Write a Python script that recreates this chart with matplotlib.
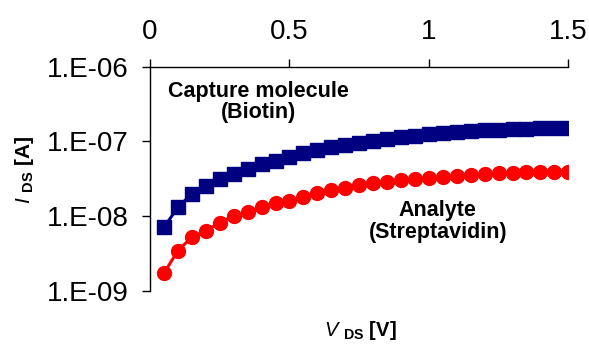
import numpy as np
import matplotlib
matplotlib.use("Agg")
import matplotlib.pyplot as plt
from matplotlib.ticker import FixedLocator, NullLocator

plt.rcParams['font.family'] = ['Liberation Sans', 'DejaVu Sans']
plt.rcParams['mathtext.fontset'] = 'custom'
plt.rcParams['mathtext.rm'] = 'Liberation Sans'
plt.rcParams['mathtext.it'] = 'Liberation Sans:italic'
plt.rcParams['mathtext.bf'] = 'Liberation Sans:bold'

# data
vds = [0.05, 0.10, 0.15, 0.20, 0.25, 0.30, 0.35, 0.40, 0.45, 0.50,
       0.55, 0.60, 0.65, 0.70, 0.75, 0.80, 0.85, 0.90, 0.95, 1.00,
       1.05, 1.10, 1.15, 1.20, 1.25, 1.30, 1.35, 1.40, 1.45, 1.50]
ids_biotin = [7.1e-9, 1.32e-8, 1.99e-8, 2.56e-8, 3.12e-8, 3.68e-8, 4.25e-8, 4.96e-8, 5.54e-8, 6.26e-8,
              6.95e-8, 7.69e-8, 8.36e-8, 8.98e-8, 9.64e-8, 1.026e-7, 1.09e-7, 1.14e-7, 1.20e-7, 1.25e-7,
              1.29e-7, 1.33e-7, 1.37e-7, 1.41e-7, 1.44e-7, 1.47e-7, 1.48e-7, 1.50e-7, 1.51e-7, 1.51e-7]
ids_strept = [1.73e-9, 3.47e-9, 5.24e-9, 6.42e-9, 8.21e-9, 1.01e-8, 1.15e-8, 1.34e-8, 1.49e-8, 1.62e-8,
              1.79e-8, 2.03e-8, 2.25e-8, 2.41e-8, 2.60e-8, 2.76e-8, 2.90e-8, 3.06e-8, 3.18e-8, 3.28e-8,
              3.38e-8, 3.49e-8, 3.60e-8, 3.68e-8, 3.76e-8, 3.83e-8, 3.88e-8, 3.91e-8, 3.95e-8, 3.95e-8]

xticks = [0, 0.5, 1, 1.5]
xticklabels = ['0', '0.5', '1', '1.5']
yticks = [1e-9, 1e-8, 1e-7, 1e-6]
yticklabels = ['1.E-09', '1.E-08', '1.E-07', '1.E-06']

fig = plt.figure(figsize=(5.89, 3.45), dpi=100)
ax = fig.add_axes([0.2547, 0.1565, 0.7102, 0.6502])

ax.plot(vds, ids_biotin, color='#000080', marker='s', markersize=10, linewidth=2.2)
ax.plot(vds, ids_strept, color='#ff0000', marker='o', markersize=10, linewidth=2.2)

ax.set_yscale('log')
ax.set_xlim(0, 1.5)
ax.set_ylim(1e-9, 1e-6)

ax.yaxis.set_major_locator(FixedLocator(yticks))
ax.yaxis.set_minor_locator(NullLocator())
ax.set_yticklabels(yticklabels)
ax.set_xticks(xticks)
ax.set_xticklabels(xticklabels)

ax.xaxis.tick_top()
ax.spines['right'].set_visible(False)
ax.spines['bottom'].set_visible(False)
for s in ['left', 'top']:
    ax.spines[s].set_linewidth(1.0)
ax.tick_params(axis='both', direction='out', length=5.5, width=1.0, labelsize=20)
ax.tick_params(axis='y', pad=10)
ax.tick_params(axis='x', pad=10)

ax.xaxis.set_label_position('bottom')
ax.set_xlabel(r'$\mathit{V}$ $_{\mathbf{DS}}$ [V]', fontsize=14.5, fontweight='bold', va='center')
ax.xaxis.set_label_coords(0.502, -0.178)
ax.set_ylabel(r'$\mathit{I}$ $_{\mathbf{DS}}$ [A]', fontsize=15, fontweight='bold', va='center')
ax.yaxis.set_label_coords(-0.301, 0.539)

ax.text(0.3875, 3.37e-7, 'Capture molecule\n(Biotin)', fontsize=15.5, fontweight='bold',
        ha='center', va='center', linespacing=1.05)
ax.text(1.0316, 8.4e-9, 'Analyte\n(Streptavidin)', fontsize=15.5, fontweight='bold',
        ha='center', va='center', linespacing=1.05)

fig.savefig('out.png', dpi=100)
